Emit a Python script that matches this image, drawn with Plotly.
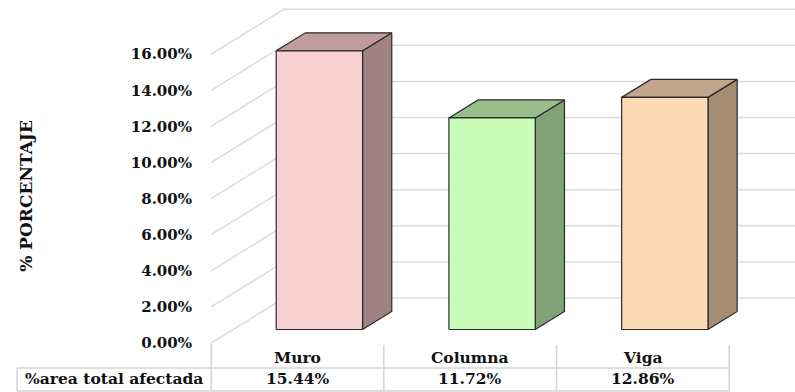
import plotly.graph_objects as go

# ---- data -------------------------------------------------------------
categories = ["Muro", "Columna", "Viga"]
afectada = [15.44, 11.72, 12.86]          # % area total afectada
row_label = "%area total afectada"
y_title = "% PORCENTAJE"
tick_values = [0, 2, 4, 6, 8, 10, 12, 14, 16]
tick_labels = ["0.00%", "2.00%", "4.00%", "6.00%", "8.00%",
               "10.00%", "12.00%", "14.00%", "16.00%"]

# ---- style ------------------------------------------------------------
front_colors = ["#F9D0D0", "#CBFDBA", "#FDDAB5"]
top_colors = ["#C09D9D", "#98BF8A", "#C1A68B"]
side_colors = ["#A08282", "#80A276", "#A68C73"]
edge_color = "#2a2a2a"
grid_color = "#DCDCDC"
table_color = "#D4D4D4"
FONT = "DejaVu Serif"

# oblique projection used for the 3-D look (axis units)
DEPTH_X = 0.4227      # horizontal shift of the back wall, in category units
DEPTH_Y = 2.493       # vertical shift of the back wall, in % units
HALF_W = 0.25         # half width of a column
F0, F1 = 0.3, 0.7     # depth span of the columns (0 = front, 1 = back wall)
LEFT = -0.5           # front-left corner of the floor
RIGHT = len(categories) - 0.5

fig = go.Figure()

# back wall gridlines and side wall diagonals
gx, gy, sx, sy = [], [], [], []
for v in tick_values:
    gx += [LEFT + DEPTH_X, 3.2, None]
    gy += [v + DEPTH_Y, v + DEPTH_Y, None]
    sx += [LEFT, LEFT + DEPTH_X, None]
    sy += [v, v + DEPTH_Y, None]
for xs, ys in ((gx, gy), (sx, sy)):
    fig.add_trace(go.Scatter(x=xs, y=ys, mode="lines",
                             line=dict(color=grid_color, width=1.5),
                             hoverinfo="skip", showlegend=False))


def face(xs, ys, color):
    fig.add_trace(go.Scatter(x=xs + [xs[0]], y=ys + [ys[0]], mode="lines",
                             fill="toself", fillcolor=color,
                             line=dict(color=edge_color, width=1.2),
                             hoverinfo="skip", showlegend=False))


# 3-D columns
ox0, oy0 = F0 * DEPTH_X, F0 * DEPTH_Y
ox1, oy1 = F1 * DEPTH_X, F1 * DEPTH_Y
for i, v in enumerate(afectada):
    xl, xr = i - HALF_W, i + HALF_W
    # side face
    face([xr + ox0, xr + ox1, xr + ox1, xr + ox0],
         [oy0, oy1, v + oy1, v + oy0], side_colors[i])
    # top face
    face([xl + ox0, xr + ox0, xr + ox1, xl + ox1],
         [v + oy0, v + oy0, v + oy1, v + oy1], top_colors[i])
    # front face
    face([xl + ox0, xr + ox0, xr + ox0, xl + ox0],
         [oy0, oy0, v + oy0, v + oy0], front_colors[i])

# data table under the plot
ROW_Y = -1.385
BOTTOM_Y = -2.659
HEAD_TOP = -0.11
LABEL_X = -1.624
tx, ty = [], []
tx += [LEFT, LEFT, None]
ty += [0, BOTTOM_Y, None]
for k in range(1, len(categories) + 1):
    tx += [LEFT + k, LEFT + k, None]
    ty += [HEAD_TOP, BOTTOM_Y, None]
tx += [LABEL_X, RIGHT, None, LABEL_X, RIGHT, None, LABEL_X, LABEL_X]
ty += [ROW_Y, ROW_Y, None, BOTTOM_Y, BOTTOM_Y, None, ROW_Y, BOTTOM_Y]
fig.add_trace(go.Scatter(x=tx, y=ty, mode="lines",
                         line=dict(color=table_color, width=1.5),
                         hoverinfo="skip", showlegend=False))

cell_font = dict(family=FONT, size=15.5, color="#111111", weight="bold")
for i, (c, v) in enumerate(zip(categories, afectada)):
    fig.add_annotation(x=i, y=-0.78, text=c, showarrow=False, font=cell_font)
    fig.add_annotation(x=i, y=-1.99, text=f"{v:.2f}%", showarrow=False,
                       font=cell_font)
fig.add_annotation(x=(LABEL_X + LEFT) / 2, y=-1.99, text=row_label,
                   showarrow=False, font=cell_font)

fig.update_layout(
    width=795, height=392, autosize=False,
    margin=dict(l=0, r=0, t=0, b=0),
    paper_bgcolor="white", plot_bgcolor="white",
    xaxis=dict(range=[-1.7226, 2.8807], visible=False, domain=[0, 1]),
    yaxis=dict(
        range=[-2.7147, 19.003], anchor="free", position=211 / 795,
        showgrid=False, zeroline=False, showline=False,
        tickmode="array", tickvals=tick_values, ticktext=tick_labels,
        ticks="outside", ticklen=16, tickcolor="rgba(0,0,0,0)",
        tickfont=dict(family=FONT, size=15, color="#111111", weight="bold"),
        title=dict(text=y_title, standoff=92,
                   font=dict(family=FONT, size=17, color="#111111",
                             weight="bold")),
    ),
)

fig.write_html("out.html")
